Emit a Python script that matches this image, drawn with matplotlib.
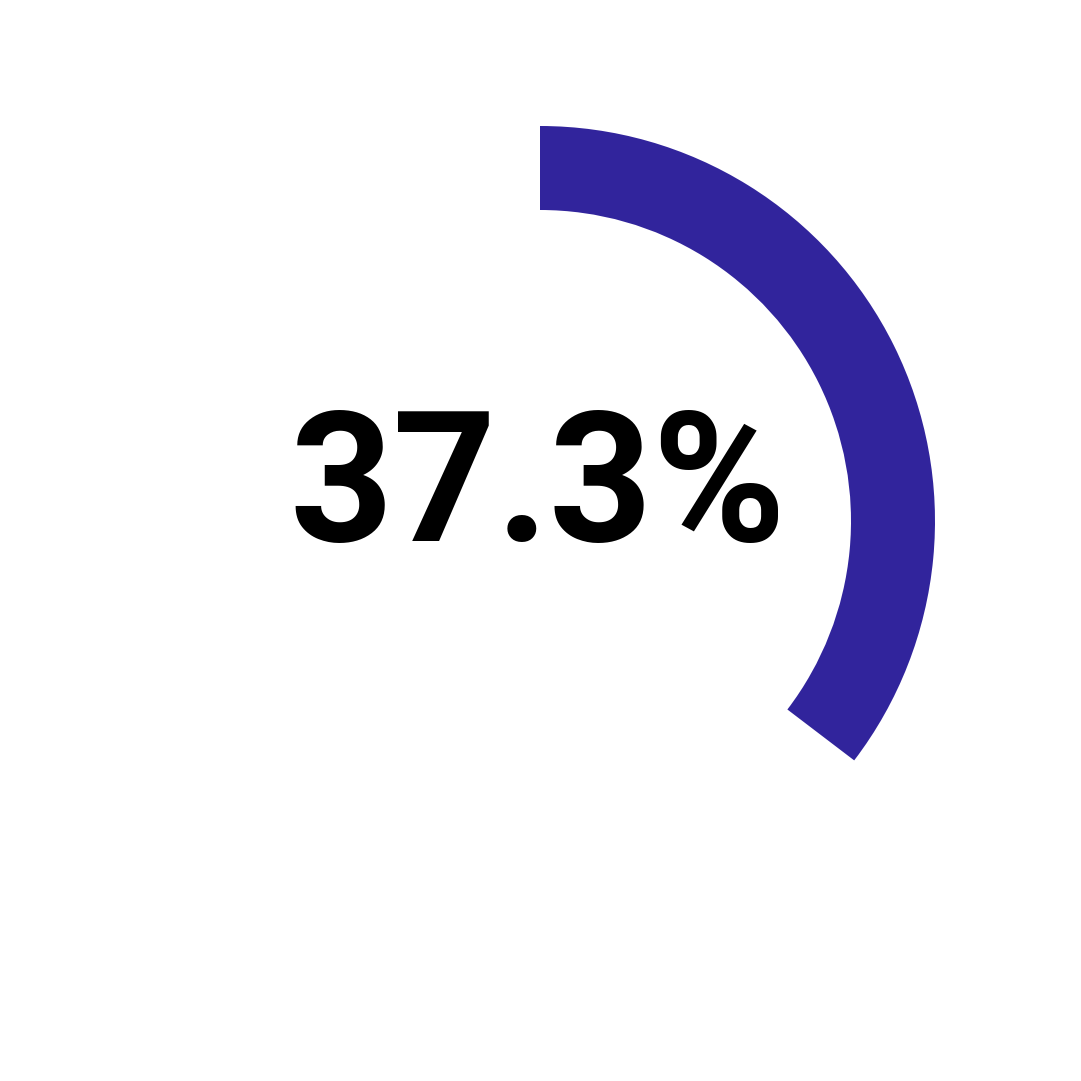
import matplotlib
matplotlib.use("Agg")
import matplotlib.pyplot as plt
from matplotlib.patches import Wedge

value = 37.3          # percent shown
full_sweep = 341.3    # degrees the 100% gauge would span
label = "37.3%"
arc_color = "#31249c"

fig = plt.figure(figsize=(10.81, 10.81), dpi=100)
ax = fig.add_axes([0, 0, 1, 1])
ax.set_xlim(0, 1081)
ax.set_ylim(0, 1081)
ax.set_aspect("equal")
ax.axis("off")

cx, cy = 540, 1081 - 521
r_out, width = 395, 84
start = 90
end = start - value / 100 * full_sweep
ax.add_patch(Wedge((cx, cy), r_out, end, start, width=width, color=arc_color, lw=0))

ax.text(538, 1081 - 541, label, ha="center", va="baseline",
        fontsize=130, fontweight="bold",
        family=["Roboto", "DejaVu Sans"], color="black")

fig.savefig("out.png", dpi=100, facecolor="white")
